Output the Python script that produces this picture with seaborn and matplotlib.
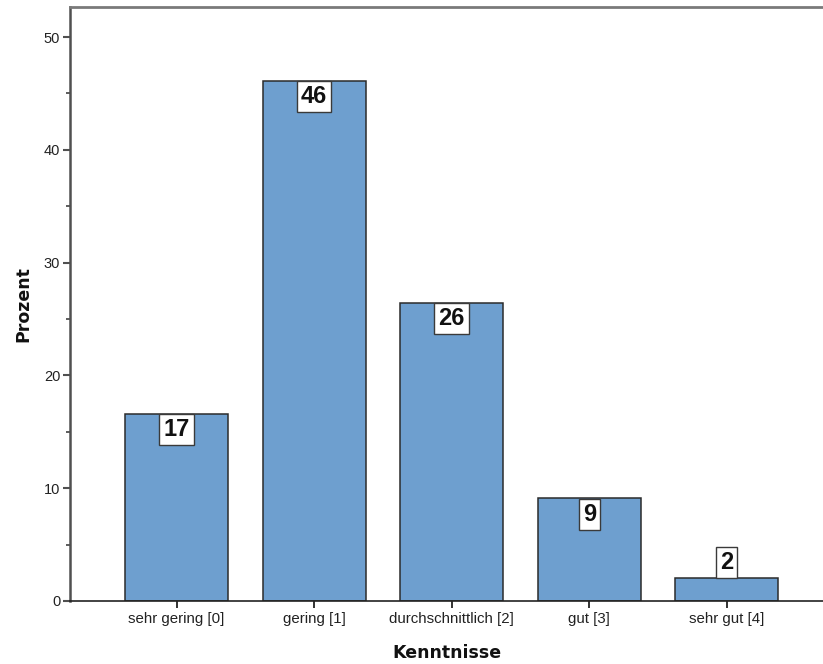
import matplotlib
matplotlib.use("Agg")
import matplotlib.pyplot as plt
from matplotlib.ticker import MultipleLocator
import pandas as pd
import seaborn as sns

# Kenntnisse-Verteilung in Prozent
categories = ["sehr gering [0]", "gering [1]", "durchschnittlich [2]", "gut [3]", "sehr gut [4]"]
percent = [16.6, 46.1, 26.4, 9.1, 2.0]
y_ticks = [0, 10, 20, 30, 40, 50]

df = pd.DataFrame({"Kenntnisse": categories, "Prozent": percent})

sns.set_theme(style="white")
plt.rcParams["font.family"] = ["Liberation Sans", "DejaVu Sans"]

fig = plt.figure(figsize=(8.23, 6.64), dpi=100)
ax = fig.add_axes([70 / 823, 1 - 601 / 664, 1 - 70 / 823, (601 - 7) / 664])

sns.barplot(data=df, x="Kenntnisse", y="Prozent", color="#6E9FCF",
            edgecolor="#2b2b2b", linewidth=1.1, width=0.75, saturation=1, ax=ax)

ax.set_xlim(-0.775, 4.70)
ax.set_ylim(0, 52.66)
ax.set_yticks(y_ticks)
ax.yaxis.set_minor_locator(MultipleLocator(5))

# Wertelabels in weißen Kästchen
for i, v in enumerate(percent):
    inside = v > 3
    ax.annotate(f"{v:.0f}", xy=(i, v),
                xytext=(0, -3.0 if inside else 3.0), textcoords="offset points",
                ha="center", va="top" if inside else "bottom",
                fontsize=17, fontweight="bold", color="#111111",
                bbox=dict(boxstyle="square,pad=0.17", fc="white", ec="#3a3a3a", lw=1))

# Achsenrahmen
ax.spines["right"].set_visible(False)
ax.spines["top"].set_color("#7a7a7a")
ax.spines["top"].set_linewidth(2)
ax.spines["left"].set_color("#505050")
ax.spines["left"].set_linewidth(1.8)
ax.spines["bottom"].set_color("#222222")
ax.spines["bottom"].set_linewidth(1.2)

ax.tick_params(axis="y", which="major", left=True, length=5, width=1.5,
               color="#505050", labelsize=10.5, labelcolor="#222222", pad=2)
ax.tick_params(axis="y", which="minor", left=True, length=3, width=1.3, color="#505050")
ax.tick_params(axis="x", which="major", bottom=True, length=5, width=1.3,
               color="#222222", labelsize=10.8, labelcolor="#222222", pad=3)

ax.set_xlabel("Kenntnisse", fontsize=12.5, fontweight="bold", color="#111111",
              labelpad=13, family="DejaVu Sans")
ax.set_ylabel("Prozent", fontsize=12.5, fontweight="bold", color="#111111",
              labelpad=8, family="DejaVu Sans")

fig.savefig("out.png", dpi=100, facecolor="white")
